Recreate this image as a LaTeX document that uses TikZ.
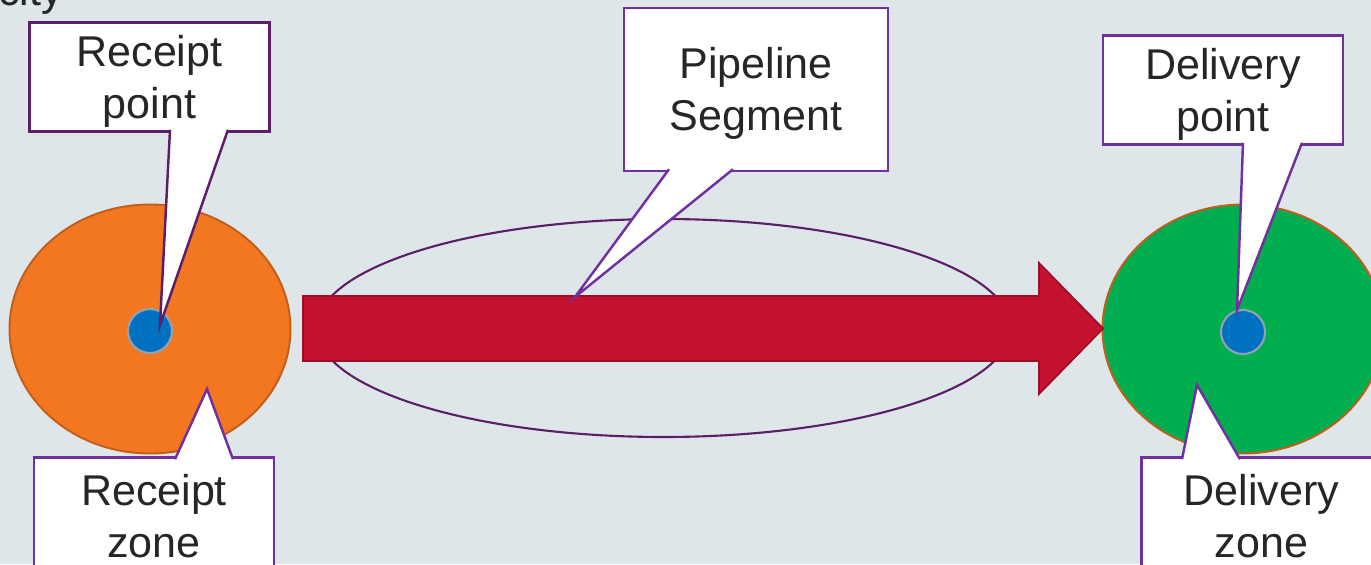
\documentclass[tikz,border=0pt]{standalone}
\usepackage{fontspec}
\setmainfont{Liberation Sans}
\usetikzlibrary{positioning,shapes.geometric,calc}

\definecolor{bggrey}{RGB}{223,230,233}
\definecolor{zoneorange}{RGB}{243,119,33}
\definecolor{zonegreen}{RGB}{0,174,79}
\definecolor{zoneedge}{RGB}{192,94,26}
\definecolor{dotblue}{RGB}{0,112,192}
\definecolor{dotedge}{RGB}{143,163,176}
\definecolor{pipered}{RGB}{196,18,48}
\definecolor{pipeedge}{RGB}{155,14,38}
\definecolor{darkpurple}{RGB}{92,30,105}
\definecolor{callpurple}{RGB}{112,48,160}
\definecolor{textgrey}{RGB}{38,38,38}
\newcommand{\calloutfont}{\fontsize{24.5}{29.5}\selectfont}
\newcommand{\topstrut}{\rule{0pt}{22.5pt}}

\begin{document}
\begin{tikzpicture}[
    callout/.style={rectangle, draw=callpurple, line width=1.4pt, fill=white, outer sep=0pt, inner sep=0pt, minimum width=4.8cm, minimum height=2.18cm, align=center, text=textgrey, font=\calloutfont},
    pointer/.style={draw=callpurple, fill=white, line width=1.4pt, line join=miter},
    zone/.style={ellipse, draw=zoneedge, line width=1.1pt, minimum width=5.62cm, minimum height=4.98cm, inner sep=0pt},
    point/.style={circle, draw=dotedge, fill=dotblue, line width=1.2pt, minimum size=0.88cm, inner sep=0pt},
    pipe/.style={draw=pipeedge, fill=pipered, line width=1pt, line join=miter}
]
    \useasboundingbox (0,0) rectangle (27.42,11.28);
    \clip (0,0) rectangle (27.42,11.28);
    \fill[bggrey] (0,0) rectangle (27.42,11.28);
    \node[anchor=base east, inner sep=0pt, text=textgrey, font=\calloutfont] (cap) at (1.26,11.16) {acity};

    % zones, points and the pipeline segment
    \node[ellipse, draw=darkpurple, line width=1.2pt, minimum width=13.88cm, minimum height=4.36cm] (seg) at (13.27,4.72) {};
    \node[zone, fill=zoneorange] (RZ) at (3.00,4.70) {};
    \node[zone, fill=zonegreen] (DZ) at (24.86,4.70) {};
    \node[point] (RP) at (3.00,4.66) {};
    \node[point] (DP) at (24.86,4.64) {};
    \filldraw[pipe] (6.06,5.36) -- (20.78,5.36) -- (20.78,6.02) -- (22.06,4.71) -- (20.78,3.40) -- (20.78,4.06) -- (6.06,4.06) -- cycle;

    % callouts
    \coordinate (rptip) at (3.20,4.78);
    \coordinate (rztip) at (4.14,3.50);
    \coordinate (segtip) at (11.50,5.34);
    \coordinate (dptip) at (24.74,5.08);
    \coordinate (dztip) at (23.94,3.58);

    \node[callout, draw=darkpurple] (rpbox) at (2.99,9.74) {\topstrut Receipt\\point};
    \filldraw[pointer, draw=darkpurple] ($(rpbox.south)+(0.41,0.035)$) -- (rptip) -- ($(rpbox.south)+(1.57,0.035)$);

    \node[callout] (rzbox) at (3.08,1.04) {\topstrut Receipt\\zone};
    \filldraw[pointer] ($(rzbox.north)+(0.42,-0.035)$) -- (rztip) -- ($(rzbox.north)+(1.58,-0.035)$);

    \node[callout, minimum width=5.28cm, minimum height=3.26cm] (segbox) at (15.12,9.49) {\topstrut Pipeline\\Segment};
    \filldraw[pointer] ($(segbox.south)+(-1.74,0.035)$) -- (segtip) -- ($(segbox.south)+(-0.46,0.035)$);

    \node[callout] (dpbox) at (24.46,9.48) {\topstrut Delivery\\point};
    \filldraw[pointer] ($(dpbox.south)+(0.40,0.035)$) -- (dptip) -- ($(dpbox.south)+(1.58,0.035)$);

    \node[callout] (dzbox) at (25.23,1.04) {\topstrut Delivery\\zone};
    \filldraw[pointer] ($(dzbox.north)+(-1.59,-0.035)$) -- (dztip) -- ($(dzbox.north)+(-0.43,-0.035)$);
\end{tikzpicture}
\end{document}
